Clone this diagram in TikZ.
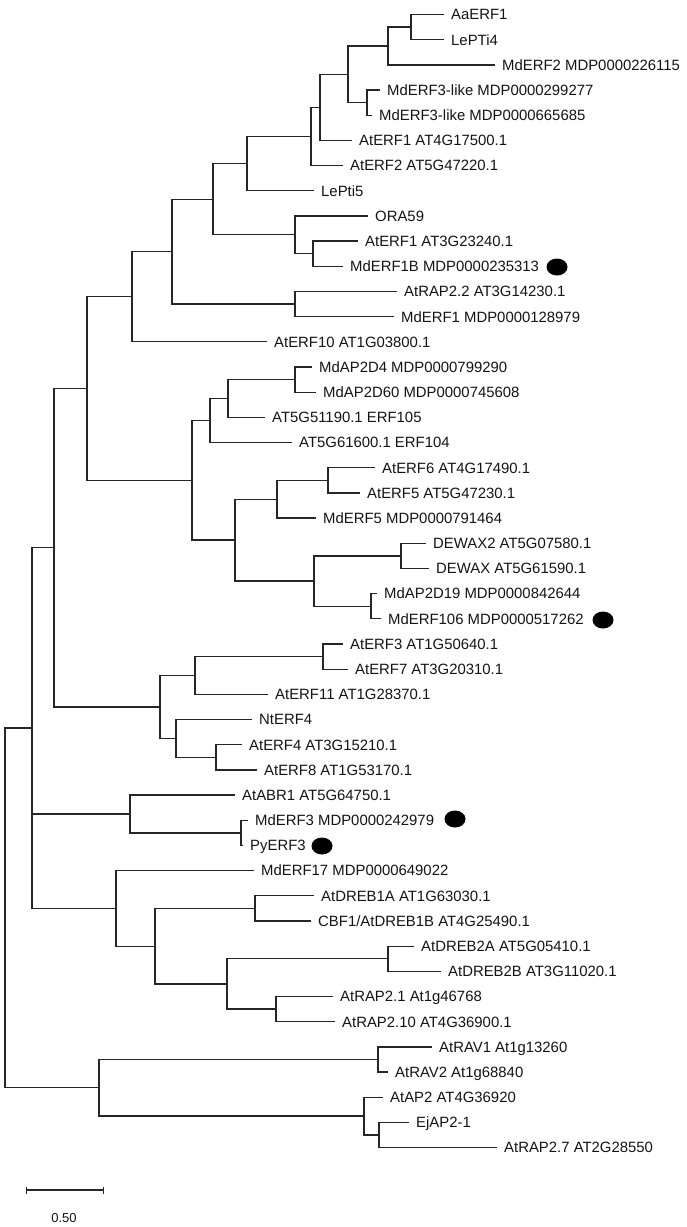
\documentclass[tikz,border=0pt]{standalone}
\usepackage{fontspec}
\setmainfont{Liberation Sans}
\usetikzlibrary{shapes.geometric,arrows.meta}

\begin{document}
\begin{tikzpicture}[
  x=1pt, y=-1pt,
  branch/.style={draw=black!85, line width=1.3pt},
  taxon/.style={anchor=west, inner xsep=7pt, inner ysep=0pt, text height=10.7pt,
    text depth=0pt, text=black!92, font=\fontsize{14.9}{16}\selectfont},
  marker/.style={ellipse, fill=black, minimum width=21pt, minimum height=17pt, inner sep=0pt}
]
  \useasboundingbox (0,0) rectangle (687,1227);

  % leaves, top to bottom
  \node[taxon] (aaerf1)   at (444,14.5)   {AaERF1};
  \node[taxon] (lepti4)   at (444,39.7)   {LePTi4};
  \node[taxon] (mderf2)   at (495,64.9)   {MdERF2 MDP0000226115};
  \node[taxon] (mderf3la) at (380,90.0)   {MdERF3-like MDP0000299277};
  \node[taxon] (mderf3lb) at (372,115.2)  {MdERF3-like MDP0000665685};
  \node[taxon] (aterf1a)  at (352,140.4)  {AtERF1 AT4G17500.1};
  \node[taxon] (aterf2)   at (343,165.6)  {AtERF2 AT5G47220.1};
  \node[taxon] (lepti5)   at (314,190.8)  {LePti5};
  \node[taxon] (ora59)    at (368,215.9)  {ORA59};
  \node[taxon] (aterf1b)  at (358,241.1)  {AtERF1 AT3G23240.1};
  \node[taxon] (mderf1b)  at (343,266.3)  {MdERF1B MDP0000235313};
  \node[taxon] (atrap22)  at (397,291.5)  {AtRAP2.2 AT3G14230.1};
  \node[taxon] (mderf1)   at (394,316.7)  {MdERF1 MDP0000128979};
  \node[taxon] (aterf10)  at (267,341.8)  {AtERF10 AT1G03800.1};
  \node[taxon] (mdap2d4)  at (312,367.0)  {MdAP2D4 MDP0000799290};
  \node[taxon] (mdap2d60) at (316,392.2)  {MdAP2D60 MDP0000745608};
  \node[taxon] (erf105)   at (265,417.4)  {AT5G51190.1 ERF105};
  \node[taxon] (erf104)   at (292,442.6)  {AT5G61600.1 ERF104};
  \node[taxon] (aterf6)   at (375,467.7)  {AtERF6 AT4G17490.1};
  \node[taxon] (aterf5)   at (360,492.9)  {AtERF5 AT5G47230.1};
  \node[taxon] (mderf5)   at (316,518.1)  {MdERF5 MDP0000791464};
  \node[taxon] (dewax2)   at (426,543.3)  {DEWAX2 AT5G07580.1};
  \node[taxon] (dewax)    at (429,568.5)  {DEWAX AT5G61590.1};
  \node[taxon] (mdap2d19) at (377,593.6)  {MdAP2D19 MDP0000842644};
  \node[taxon] (mderf106) at (381,618.8)  {MdERF106 MDP0000517262};
  \node[taxon] (aterf3)   at (343,644.0)  {AtERF3 AT1G50640.1};
  \node[taxon] (aterf7)   at (348,669.2)  {AtERF7 AT3G20310.1};
  \node[taxon] (aterf11)  at (268,694.4)  {AtERF11 AT1G28370.1};
  \node[taxon] (nterf4)   at (252,719.5)  {NtERF4};
  \node[taxon] (aterf4)   at (242,744.7)  {AtERF4 AT3G15210.1};
  \node[taxon] (aterf8)   at (257,769.9)  {AtERF8 AT1G53170.1};
  \node[taxon] (atabr1)   at (235,795.1)  {AtABR1 AT5G64750.1};
  \node[taxon] (mderf3)   at (248,820.3)  {MdERF3 MDP0000242979};
  \node[taxon] (pyerf3)   at (243,845.4)  {PyERF3};
  \node[taxon] (mderf17)  at (254,870.6)  {MdERF17 MDP0000649022};
  \node[taxon] (atdreb1a) at (314,895.8)  {AtDREB1A AT1G63030.1};
  \node[taxon] (cbf1)     at (311,921.0)  {CBF1/AtDREB1B AT4G25490.1};
  \node[taxon] (atdreb2a) at (414,946.2)  {AtDREB2A AT5G05410.1};
  \node[taxon] (atdreb2b) at (441,971.3)  {AtDREB2B AT3G11020.1};
  \node[taxon] (atrap21)  at (333,996.5)  {AtRAP2.1 At1g46768};
  \node[taxon] (atrap210) at (335,1021.7) {AtRAP2.10 AT4G36900.1};
  \node[taxon] (atrav1)   at (432,1046.9) {AtRAV1 At1g13260};
  \node[taxon] (atrav2)   at (388,1072.1) {AtRAV2 At1g68840};
  \node[taxon] (atap2)    at (383,1097.2) {AtAP2 AT4G36920};
  \node[taxon] (ejap21)   at (409,1122.4) {EjAP2-1};
  \node[taxon] (atrap27)  at (497,1147.6) {AtRAP2.7 AT2G28550};

  % internal nodes
  \coordinate (n1)  at (411,27.1);
  \coordinate (n2)  at (388,46.0);
  \coordinate (n3)  at (367,102.6);
  \coordinate (n4)  at (348,74.3);
  \coordinate (n5)  at (320,107.3);
  \coordinate (n6)  at (311,136.5);
  \coordinate (n7)  at (247,163.6);
  \coordinate (n8)  at (313,253.7);
  \coordinate (n9)  at (295,234.8);
  \coordinate (n10) at (213,199.2);
  \coordinate (n11) at (295,304.1);
  \coordinate (n12) at (172,251.6);
  \coordinate (n13) at (132,296.7);
  \coordinate (n14) at (295,379.6);
  \coordinate (n15) at (228,398.5);
  \coordinate (n16) at (210,420.5);
  \coordinate (n17) at (328,480.3);
  \coordinate (n18) at (277,499.2);
  \coordinate (n19) at (401,555.9);
  \coordinate (n20) at (371,606.2);
  \coordinate (n21) at (314,581.0);
  \coordinate (n22) at (235,540.1);
  \coordinate (n23) at (192,480.3);
  \coordinate (n24) at (87,388.5);
  \coordinate (n25) at (160,707.0);
  \coordinate (n26) at (323,656.6);
  \coordinate (n27) at (195,675.5);
  \coordinate (n28) at (216,757.3);
  \coordinate (n29) at (176,738.4);
  \coordinate (n30) at (54,547.7);
  \coordinate (n31) at (241,832.9);
  \coordinate (n32) at (130,814.0);
  \coordinate (n33) at (255,908.4);
  \coordinate (n34) at (388,958.8);
  \coordinate (n35) at (276,1009.1);
  \coordinate (n36) at (227,984.0);
  \coordinate (n37) at (155,946.2);
  \coordinate (n38) at (116,908.4);
  \coordinate (n39) at (32,728.1);
  \coordinate (n40) at (378,1059.5);
  \coordinate (n41) at (379,1135.0);
  \coordinate (n42) at (364,1116.1);
  \coordinate (n43) at (99,1087.8);
  \coordinate (root) at (5,908.0);

  % branches: first child -| node |- last child
  \draw[branch] (aaerf1) -| (n1) |- (lepti4);
  \draw[branch] (n1) -| (n2) |- (mderf2);
  \draw[branch] (mderf3la) -| (n3) |- (mderf3lb);
  \draw[branch] (n2) -| (n4) |- (n3);
  \draw[branch] (n4) -| (n5) |- (aterf1a);
  \draw[branch] (n5) -| (n6) |- (aterf2);
  \draw[branch] (n6) -| (n7) |- (lepti5);
  \draw[branch] (aterf1b) -| (n8) |- (mderf1b);
  \draw[branch] (ora59) -| (n9) |- (n8);
  \draw[branch] (n7) -| (n10) |- (n9);
  \draw[branch] (atrap22) -| (n11) |- (mderf1);
  \draw[branch] (n10) -| (n12) |- (n11);
  \draw[branch] (n12) -| (n13) |- (aterf10);
  \draw[branch] (mdap2d4) -| (n14) |- (mdap2d60);
  \draw[branch] (n14) -| (n15) |- (erf105);
  \draw[branch] (n15) -| (n16) |- (erf104);
  \draw[branch] (aterf6) -| (n17) |- (aterf5);
  \draw[branch] (n17) -| (n18) |- (mderf5);
  \draw[branch] (dewax2) -| (n19) |- (dewax);
  \draw[branch] (mdap2d19) -| (n20) |- (mderf106);
  \draw[branch] (n19) -| (n21) |- (n20);
  \draw[branch] (n18) -| (n22) |- (n21);
  \draw[branch] (n16) -| (n23) |- (n22);
  \draw[branch] (n13) -| (n24) |- (n23);
  \draw[branch] (aterf3) -| (n26) |- (aterf7);
  \draw[branch] (n26) -| (n27) |- (aterf11);
  \draw[branch] (aterf4) -| (n28) |- (aterf8);
  \draw[branch] (nterf4) -| (n29) |- (n28);
  \draw[branch] (n27) -| (n25) |- (n29);
  \draw[branch] (n24) -| (n30) |- (n25);
  \draw[branch] (mderf3) -| (n31) |- (pyerf3);
  \draw[branch] (atabr1) -| (n32) |- (n31);
  \draw[branch] (atdreb1a) -| (n33) |- (cbf1);
  \draw[branch] (atdreb2a) -| (n34) |- (atdreb2b);
  \draw[branch] (atrap21) -| (n35) |- (atrap210);
  \draw[branch] (n34) -| (n36) |- (n35);
  \draw[branch] (n33) -| (n37) |- (n36);
  \draw[branch] (mderf17) -| (n38) |- (n37);
  \draw[branch] (n30) -| (n39) |- (n38);
  \draw[branch] (n32 -| n39) -- (n32);
  \draw[branch] (atrav1) -| (n40) |- (atrav2);
  \draw[branch] (ejap21) -| (n41) |- (atrap27);
  \draw[branch] (atap2) -| (n42) |- (n41);
  \draw[branch] (n40) -| (n43) |- (n42);
  \draw[branch] (n39) -| (root) |- (n43);

  % marked genes
  \node[marker] (dot-mderf1b)  at (557,267) {};
  \node[marker] (dot-mderf106) at (603,620) {};
  \node[marker] (dot-mderf3)   at (455,819) {};
  \node[marker] (dot-pyerf3)   at (322,846) {};

  % scale bar
  \coordinate (bar-l) at (26,1190);
  \coordinate (bar-r) at (104,1190);
  \draw[branch, {Bar[width=7pt]}-{Bar[width=7pt]}] (bar-l) -- (bar-r);
  \node[inner sep=0pt, text=black!92, font=\fontsize{13}{15}\selectfont] (bar-txt) at (64,1218) {0.50};
\end{tikzpicture}
\end{document}
